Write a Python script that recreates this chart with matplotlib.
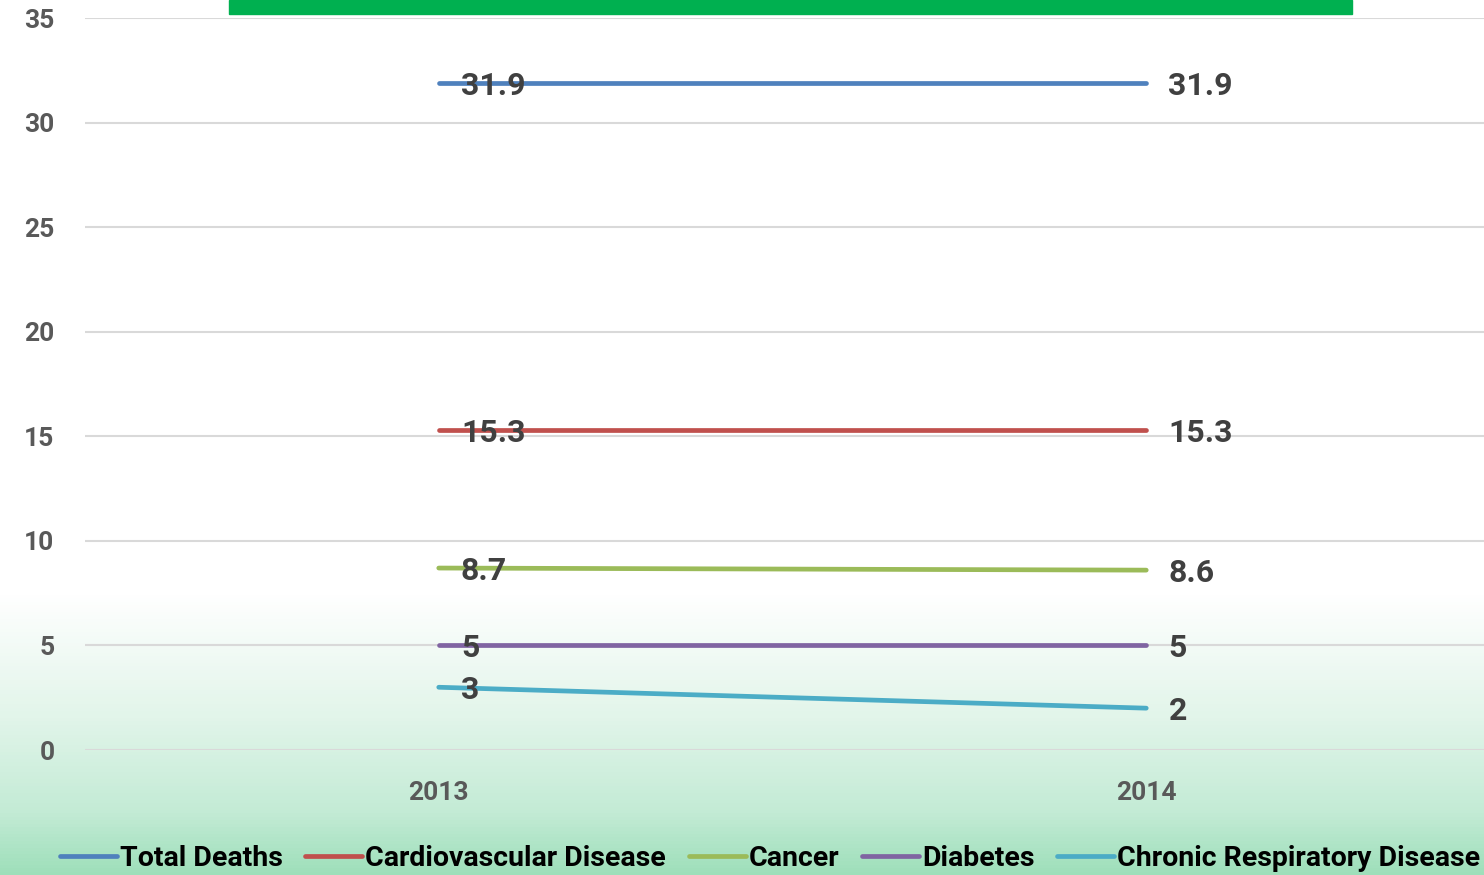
import matplotlib.pyplot as plt
import numpy as np
from matplotlib.patches import Rectangle
from matplotlib.colors import LinearSegmentedColormap

years = ['2013', '2014']
total_deaths = [31.9, 31.9]
cardiovascular = [15.3, 15.3]
cancer = [8.7, 8.6]
diabetes = [5, 5]
respiratory = [3, 2]

series = [
    ('Total Deaths', total_deaths, '#4F81BD'),
    ('Cardiovascular Disease', cardiovascular, '#C0504D'),
    ('Cancer', cancer, '#9BBB59'),
    ('Diabetes', diabetes, '#8064A2'),
    ('Chronic Respiratory Disease', respiratory, '#4BACC6'),
]

plt.rcParams['font.family'] = ['Roboto', 'DejaVu Sans']
plt.rcParams['font.weight'] = 'bold'

fig = plt.figure(figsize=(14.84, 8.75), dpi=100)

# background: white fading into light green towards the bottom
bg = fig.add_axes([0, 0, 1, 1], zorder=0)
bg.axis('off')
cmap = LinearSegmentedColormap.from_list(
    'bg', [(0.0, '#FFFFFF'), (0.68, '#FFFFFF'), (0.82, '#E2F5EA'), (0.93, '#C3EBD5'), (1.0, '#9EDFBA')])
grad = np.linspace(0, 1, 256).reshape(-1, 1)
bg.imshow(grad, aspect='auto', cmap=cmap, extent=[0, 1, 0, 1], origin='upper')
bg.set_xlim(0, 1)
bg.set_ylim(0, 1)

# clipped title box at the very top
fig.patches.append(Rectangle((229 / 1484, 1 - 14 / 875), (1352 - 229) / 1484, 14 / 875,
                             transform=fig.transFigure, color='#00B050', zorder=1))

W, H = 1484, 875
left, right = 85 / W, 1500 / W
bottom, top = 1 - 750 / H, 1 - 18 / H
ax = fig.add_axes([left, bottom, right - left, top - bottom], zorder=2)
ax.patch.set_alpha(0)

x = np.arange(len(years))
for name, vals, color in series:
    ax.plot(x, vals, color=color, lw=3.4, solid_capstyle='round', label=name, zorder=3)
    for xi, v in zip(x, vals):
        ax.annotate(f'{v:g}', (xi, v), xytext=(16, -2), textcoords='offset points',
                    ha='left', va='center', fontsize=23, fontweight='bold', color='#404040', zorder=4)

ax.set_xlim(-0.5, 1.5)
ax.set_ylim(0, 35)
ax.set_yticks(np.arange(0, 36, 5))
ax.set_xticks(x, years)
ax.grid(axis='y', color='#D9D9D9', lw=1.5, zorder=1)
ax.set_axisbelow(True)
for s in ax.spines.values():
    s.set_visible(False)
ax.tick_params(axis='y', length=0, pad=22, labelsize=19, labelcolor='#595959')
ax.tick_params(axis='x', length=0, pad=22, labelsize=19, labelcolor='#595959')
for lab in ax.get_xticklabels() + ax.get_yticklabels():
    lab.set_fontweight('bold')

leg = fig.legend(loc='center', bbox_to_anchor=(770 / W, 1 - 858 / H), ncol=5, frameon=False,
                 handlelength=2.0, handletextpad=0.1, columnspacing=0.8,
                 prop={'weight': 'bold', 'size': 20.5})
for t in leg.get_texts():
    t.set_color('black')

fig.savefig('out.png', dpi=100)
